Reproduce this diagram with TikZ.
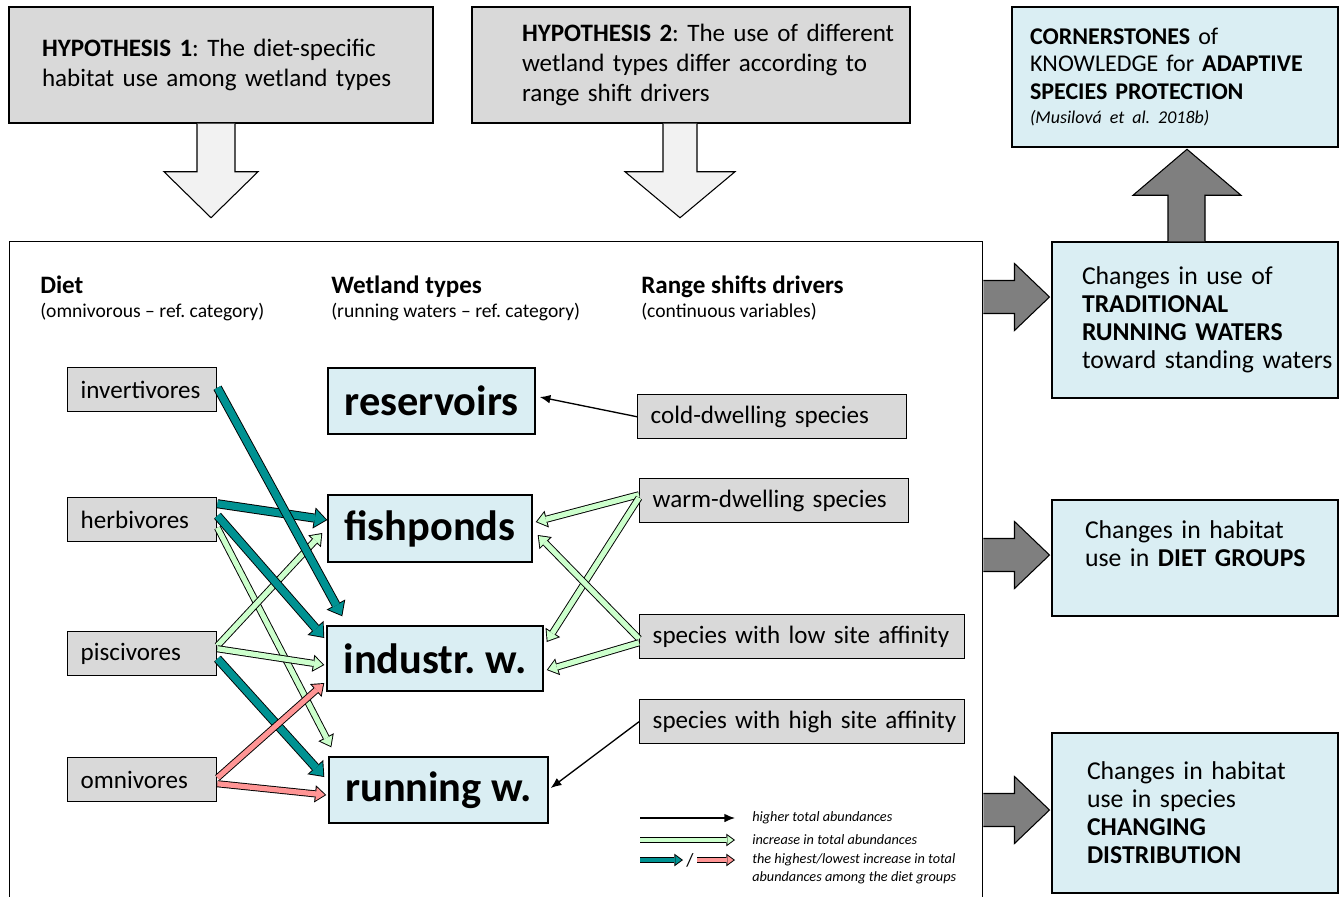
\documentclass[tikz,border=0pt]{standalone}
\usepackage{fontspec}
\setmainfont{Carlito}
\usepackage{tikz}
\usetikzlibrary{calc}
\usetikzlibrary{arrows.meta}
\frenchspacing
\definecolor{boxgray}{HTML}{D9D9D9}
\definecolor{boxblue}{HTML}{DAEEF3}
\definecolor{tealarrow}{HTML}{009292}
\definecolor{greenarrow}{HTML}{CCFFCC}
\definecolor{redarrow}{HTML}{FF9595}
\definecolor{darkarrow}{HTML}{7F7F7F}
\definecolor{lightarrow}{HTML}{F2F2F2}
\newcommand{\oneline}[1]{\mbox{#1}}
\newcommand{\mainsize}{\fontsize{18.8}{22.5}\selectfont}
\newcommand{\outsize}{\fontsize{19.3}{21}\selectfont}
\newcommand{\wetsize}{\fontsize{31.8}{36}\selectfont}
\newcommand{\subsize}{\fontsize{14.7}{17}\selectfont}
\newcommand{\keysize}{\fontsize{10.7}{13.5}\selectfont}
\tikzset{
	hypbox/.style={draw, line width=1.1pt, fill=boxgray, align=left, minimum height=87pt, font=\mainsize},
	outbox/.style={draw, line width=1.1pt, fill=boxblue, align=left, font=\outsize},
	dietbox/.style={draw, line width=1.1pt, fill=boxgray, anchor=north west, align=left,
		text width=92.25pt, inner xsep=9.75pt, inner ysep=0pt, minimum height=33pt, font=\mainsize},
	drivbox/.style={draw, line width=1.1pt, fill=boxgray, anchor=north west, align=left,
		text width=#1, inner xsep=9.75pt, inner ysep=0pt, minimum height=33pt, font=\mainsize},
	wetbox/.style={draw, line width=1.1pt, fill=boxblue, inner sep=1pt, minimum height=49.5pt, font=\wetsize\bfseries},
	headtext/.style={anchor=base west, inner sep=0pt, font=\mainsize\bfseries},
	subtext/.style={anchor=base west, inner sep=0pt, font=\subsize},
	keytext/.style={anchor=west, inner sep=0pt, align=left, font=\keysize\itshape},
	lightblock/.style={draw, line width=0.8pt, fill=lightarrow},
	darkblock/.style={draw, line width=0.8pt, fill=darkarrow},
	thinarrow/.style={line width=1pt, -{Latex[length=8pt,width=6.5pt]}},
	fatarrow/.style={draw=#1, line width=5.4pt, shorten >=1.1pt,
		-{Triangle[length=8.2pt,width=13.1pt,line width=0pt]},
		preaction={draw=black, line width=6.8pt, shorten >=0pt, -{Triangle[length=10pt,width=16pt,line width=0pt]}}},
	slimarrow/.style={draw=#1, line width=3.9pt, shorten >=1.15pt,
		-{Triangle[length=6.6pt,width=10.1pt,line width=0pt]},
		preaction={draw=black, line width=5.3pt, shorten >=0pt, -{Triangle[length=8.5pt,width=13pt,line width=0pt]}}},
	keyarrow/.style={draw=#1, line width=2.6pt, shorten >=1.2pt,
		-{Triangle[length=4.6pt,width=6.7pt,line width=0pt]},
		preaction={draw=black, line width=3.8pt, shorten >=0pt, -{Triangle[length=6.5pt,width=9.5pt,line width=0pt]}}},
}

\begin{document}
\begin{tikzpicture}[x=0.75pt,y=-0.75pt]
	\useasboundingbox (0,0) rectangle (1341,896);
	% hypotheses and outcomes
	\node[hypbox, text width=268.5pt, inner xsep=24.75pt] (hypone) at (221,65)
		{\oneline{\textbf{HYPOTHESIS 1}: The diet-specific}\\\oneline{habitat use among wetland types}};
	\node[hypbox, text width=253.5pt, inner xsep=37.5pt] (hyptwo) at (691,65)
		{\oneline{\textbf{HYPOTHESIS 2}: The use of different}\\\oneline{wetland types differ according to}\\\oneline{range shift drivers}};
	\node[outbox, text width=217.5pt, inner xsep=13.5pt, minimum height=105pt, font=\fontsize{18}{20.6}\selectfont] (corner) at (1175,77)
		{\oneline{\textbf{CORNERSTONES} of}\\\oneline{KNOWLEDGE for \textbf{ADAPTIVE}}\\\oneline{\textbf{SPECIES PROTECTION}}\\[-2pt]\oneline{\fontsize{13.5}{15}\selectfont\itshape (Musilová et al. 2018b)}};
	\node[draw, line width=1.1pt, anchor=north west, minimum width=729.75pt, minimum height=510pt, inner sep=0pt] (main) at (9,241) {};
	\node[outbox, text width=169.5pt, inner xsep=22.5pt, minimum height=117pt] (trad) at (1195,320)
		{\oneline{Changes in use of}\\\oneline{\textbf{TRADITIONAL}}\\\oneline{\textbf{RUNNING WATERS}}\\\oneline{toward standing waters}};
	\node[outbox, text width=165pt, inner xsep=24.75pt, minimum height=87pt] (dietgr) at (1195,558)
		{\oneline{Changes in habitat}\\\oneline{use in \textbf{DIET GROUPS}}\\\mbox{}};
	\node[outbox, text width=162pt, inner xsep=26.25pt, minimum height=120pt] (chdist) at (1195,813)
		{\oneline{Changes in habitat}\\\oneline{use in species}\\\oneline{\textbf{CHANGING}}\\\oneline{\textbf{DISTRIBUTION}}};
	% block arrows
	\draw[lightblock] ([shift={(-24,0)}]hypone.south) -- ++(0,48) -- ++(-33,0) -- ++(47,46) -- ++(47,-46) -- ++(-23,0) -- ++(0,-48);
	\draw[lightblock] ([shift={(-28,0)}]hyptwo.south) -- ++(0,48) -- ++(-38,0) -- ++(55,46) -- ++(55,-46) -- ++(-38,0) -- ++(0,-48);
	\draw[darkblock] ([shift={(-27,0)}]trad.north) -- ++(0,-46) -- ++(-35,0) -- ++(54,-46) -- ++(54,46) -- ++(-36,0) -- ++(0,46);
	\foreach \dy in {56,314,569}
		\draw[darkblock] ([shift={(0,\dy-16.5)}]main.north east) -- ++(31,0) -- ++(0,-17) -- ++(35,33.5) -- ++(-35,33.5) -- ++(0,-17) -- ++(-31,0);
	% column heads
	\node[headtext] (diethead) at (40,293) {Diet};
	\node[subtext] (dietsub) at (40,317) {(omnivorous – ref. category)};
	\node[headtext] (wethead) at (331,293) {Wetland types};
	\node[subtext] (wetsub) at (331,317) {(running waters – ref. category)};
	\node[headtext] (drivhead) at (641,293) {Range shifts drivers};
	\node[subtext] (drivsub) at (641,317) {(continuous variables)};
	% diet groups
	\node[dietbox] (inv) at (67,367) {\oneline{invertivores}};
	\node[dietbox] (herb) at (67,497) {\oneline{herbivores}};
	\node[dietbox] (pisc) at (67,631) {\oneline{piscivores}};
	\node[dietbox] (omni) at (67,757) {\oneline{omnivores}};
	% wetland types
	\node[wetbox, minimum width=155.25pt] (res) at (431.5,401) {reservoirs};
	\node[wetbox, minimum width=153pt, minimum height=50.25pt] (fish) at (430,528.5) {fishponds};
	\node[wetbox, minimum width=162pt, minimum height=48.75pt] (ind) at (435,658.5) {industr. w.};
	\node[wetbox, minimum width=164.25pt] (run) at (438.5,790) {running w.};
	% drivers
	\node[drivbox=182.25pt] (cold) at (637,394) {\oneline{cold-dwelling species}};
	\node[drivbox=182.25pt] (warm) at (639,478) {\oneline{warm-dwelling species}};
	\node[drivbox=224.25pt] (low) at (639,614) {\oneline{species with low site affinity}};
	\node[drivbox=224.25pt] (high) at (639,699) {\oneline{species with high site affinity}};
	% effects
	\draw[thinarrow] (cold.west) -- ([shift={(4,-4)}]res.east);
	\draw[thinarrow] (high.west) -- ([shift={(2,-2)}]run.east);
	\draw[slimarrow=greenarrow] ([shift={(0,8)}]herb.east) -- ([shift={(3,-9)}]run.north west);
	\draw[slimarrow=greenarrow] ([shift={(0,-8)}]pisc.east) -- ([shift={(-5,4.5)}]fish.west);
	\draw[slimarrow=greenarrow] ([shift={(0,-5)}]pisc.east) -- ([shift={(-2,6.5)}]ind.west);
	\draw[fatarrow=tealarrow] ([shift={(0,-16)}]herb.east) -- ([shift={(0,-8.5)}]fish.west);
	\draw[fatarrow=tealarrow] ([shift={(0,-4)}]herb.east) -- ([shift={(-2,-20.5)}]ind.west);
	\draw[fatarrow=tealarrow] ([shift={(0,-2)}]inv.east) -- ([shift={(16,-9)}]ind.north west);
	\draw[fatarrow=tealarrow] ([shift={(0,5)}]pisc.east) -- ([shift={(-4,-13)}]run.west);
	\draw[slimarrow=redarrow] ([shift={(0,-2)}]omni.east) -- ([shift={(-2,24.5)}]ind.west);
	\draw[slimarrow=redarrow] ([shift={(0,4)}]omni.east) -- ([shift={(-2,5)}]run.west);
	\draw[slimarrow=greenarrow] ([shift={(0,-6)}]warm.west) -- ([shift={(3,-6.5)}]fish.east);
	\draw[slimarrow=greenarrow] ([shift={(0,-3)}]warm.west) -- ([shift={(3,-16.5)}]ind.east);
	\draw[slimarrow=greenarrow] ([shift={(0,2)}]low.west) -- ([shift={(5,6.5)}]fish.east);
	\draw[slimarrow=greenarrow] ([shift={(0,6)}]low.west) -- ([shift={(3,11.5)}]ind.east);
	% key
	\coordinate (keyonea) at (640,818);
	\coordinate (keyoneb) at (735,818);
	\coordinate (keytwoa) at (640,840);
	\coordinate (keytwob) at (735,840);
	\coordinate (keythreea) at (640,860);
	\coordinate (keythreeb) at (683,860);
	\coordinate (keyfoura) at (697,860);
	\coordinate (keyfourb) at (735,860);
	\draw[thinarrow] (keyonea) -- (keyoneb);
	\draw[keyarrow=greenarrow] (keytwoa) -- (keytwob);
	\draw[keyarrow=tealarrow] (keythreea) -- (keythreeb);
	\node[inner sep=0pt, font=\fontsize{14}{16}\selectfont] (slash) at (690,860) {/};
	\draw[keyarrow=redarrow] (keyfoura) -- (keyfourb);
	\node[keytext] (keyone) at (752,818) {higher total abundances};
	\node[keytext] (keytwo) at (752,840) {increase in total abundances};
	\node[keytext] (keythree) at (752,869) {the highest/lowest increase in total\\abundances among the diet groups};
\end{tikzpicture}
\end{document}
